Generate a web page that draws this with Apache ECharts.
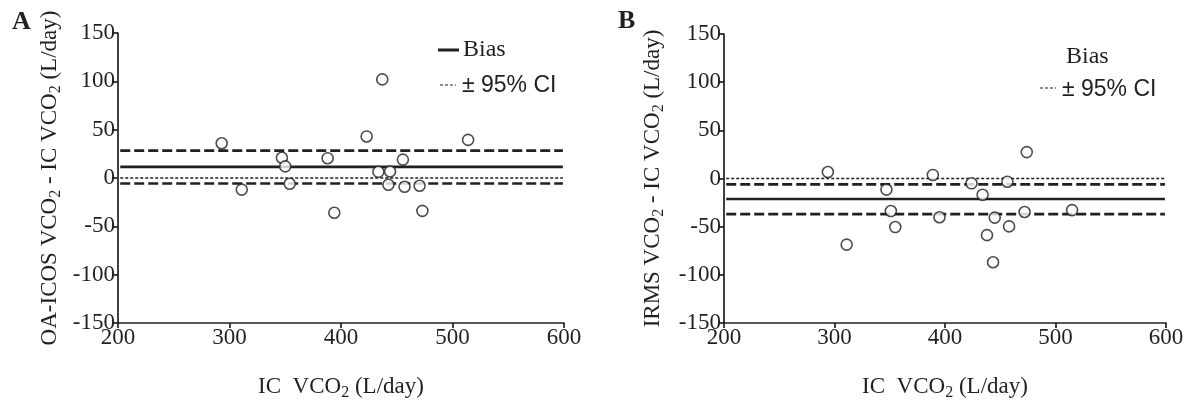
<!DOCTYPE html>
<html><head><meta charset="utf-8">
<script src="https://cdn.jsdelivr.net/npm/echarts@6/dist/echarts.min.js"></script>
<style>html,body{margin:0;padding:0;background:#fff}#c{width:1189px;height:406px}</style>
</head><body><div id="c"></div>
<script>
// ---- data ----
const icA   = [293, 311, 347, 350, 354, 388, 394, 423, 437, 433.5, 444, 442.5, 455.5, 457, 470.5, 473, 514];
const diffA = [36, -12, 21, 12, -6, 20.5, -36, 43, 102, 6.4, 6.7, -7, 19, -9, -8, -34, 39.4];
const icB   = [294, 311, 347, 351, 355, 389, 395, 424, 434, 438, 443.5, 445, 456.5, 458, 472, 474, 515];
const diffB = [6.8, -68.6, -11.5, -33.8, -50.4, 3.7, -40.2, -5, -16.9, -58.8, -86.9, -40.6, -3.4, -49.7, -34.8, 27.4, -32.8];
const statsA = { bias: 11.5, upper: 28.3, lower: -5.7 };
const statsB = { bias: -21.3, upper: -6.1, lower: -36.9 };
const zeroLine = 0;
const lineRange = [202, 599];
const xRange = [200, 600, 100];
const yRange = [-150, 150, 50];

const INK = '#231f20';
const SERIF = '"Liberation Serif","Times New Roman",serif';
const SANS = '"Liberation Sans",Arial,sans-serif';

const rich = {
  t: { fontFamily: SERIF, fontSize: 23, color: INK, lineHeight: 28 },
  s: { fontFamily: SERIF, fontSize: 16, color: INK, lineHeight: 10, verticalAlign: 'bottom' }
};

function xAx(gi) {
  return {
    gridIndex: gi, type: 'value', min: xRange[0], max: xRange[1], interval: xRange[2],
    name: '{t|IC  VCO}{s|2}{t| (L/day)}', nameLocation: 'middle', nameGap: 50,
    nameTextStyle: { rich: rich },
    axisLine: { show: true, onZero: false, lineStyle: { color: INK, width: 1.7 } },
    axisTick: { show: true, inside: false, length: 5, lineStyle: { color: INK, width: 1.7 } },
    axisLabel: { margin: 3, fontFamily: SERIF, fontSize: 23, color: INK },
    splitLine: { show: false }
  };
}
function yAx(gi, name, gap) {
  return {
    gridIndex: gi, type: 'value', min: yRange[0], max: yRange[1], interval: yRange[2],
    name: name, nameLocation: 'middle', nameGap: gap,
    nameTextStyle: { rich: rich },
    axisLine: { show: true, onZero: false, lineStyle: { color: INK, width: 1.7 } },
    axisTick: { show: true, inside: false, length: 5, lineStyle: { color: INK, width: 1.7 } },
    axisLabel: { margin: 3, fontFamily: SERIF, fontSize: 23, color: INK },
    splitLine: { show: false }
  };
}
function hline(gi, v, type, width) {
  return {
    type: 'line', xAxisIndex: gi, yAxisIndex: gi, symbol: 'none', silent: true, z: 2,
    data: [[lineRange[0], v], [lineRange[1], v]],
    lineStyle: { color: INK, width: width, type: type }
  };
}
function pts(gi, xs, ys) {
  return {
    type: 'scatter', xAxisIndex: gi, yAxisIndex: gi, z: 5,
    data: xs.map((x, i) => [x, ys[i]]),
    symbol: 'circle', symbolSize: 11,
    itemStyle: { color: '#fff', borderColor: INK, borderWidth: 1.6 }
  };
}

const chart = echarts.init(document.getElementById('c'), null, { renderer: 'canvas' });
chart.setOption({
  backgroundColor: '#fff',
  animation: false,
  grid: [
    { left: 118, top: 33, width: 446, height: 300 },
    { left: 724, top: 34, width: 442, height: 300 }
  ],
  xAxis: [xAx(0), xAx(1)],
  yAxis: [
    yAx(0, '{t|OA-ICOS VCO}{s|2}{t| - IC VCO}{s|2}{t| (L/day)}', 54),
    yAx(1, '{t|IRMS VCO}{s|2}{t| - IC VCO}{s|2}{t| (L/day)}', 57)
  ],
  series: [
    hline(0, zeroLine, [3, 2], 1.7),
    hline(0, statsA.upper, [10, 4], 2.7),
    hline(0, statsA.bias, 'solid', 2.7),
    hline(0, statsA.lower, [10, 4], 2.7),
    pts(0, icA, diffA),
    hline(1, zeroLine, [3, 2], 1.7),
    hline(1, statsB.upper, [10, 4], 2.7),
    hline(1, statsB.bias, 'solid', 2.7),
    hline(1, statsB.lower, [10, 4], 2.7),
    pts(1, icB, diffB)
  ],
  graphic: [
    { type: 'text', x: 12, y: 22, style: { text: 'A', font: 'bold 26px ' + SERIF, fill: INK, verticalAlign: 'middle' } },
    { type: 'text', x: 618, y: 21, style: { text: 'B', font: 'bold 26px ' + SERIF, fill: INK, verticalAlign: 'middle' } },
    // legend A
    { type: 'line', shape: { x1: 438, y1: 50, x2: 459, y2: 50 }, style: { stroke: INK, lineWidth: 3 } },
    { type: 'text', x: 463, y: 50, style: { text: 'Bias', font: '24px ' + SERIF, fill: INK, verticalAlign: 'middle' } },
    { type: 'line', shape: { x1: 440, y1: 85, x2: 456, y2: 85 }, style: { stroke: INK, lineWidth: 1.2, lineDash: [3, 2] } },
    { type: 'text', x: 462, y: 86, style: { text: '± 95% CI', font: '23px ' + SANS, fill: INK, verticalAlign: 'middle' } },
    // legend B
    { type: 'text', x: 1066, y: 57, style: { text: 'Bias', font: '24px ' + SERIF, fill: INK, verticalAlign: 'middle' } },
    { type: 'line', shape: { x1: 1040, y1: 88, x2: 1056, y2: 88 }, style: { stroke: INK, lineWidth: 1.2, lineDash: [3, 2] } },
    { type: 'text', x: 1062, y: 90, style: { text: '± 95% CI', font: '23px ' + SANS, fill: INK, verticalAlign: 'middle' } }
  ]
});
</script>
</body></html>
